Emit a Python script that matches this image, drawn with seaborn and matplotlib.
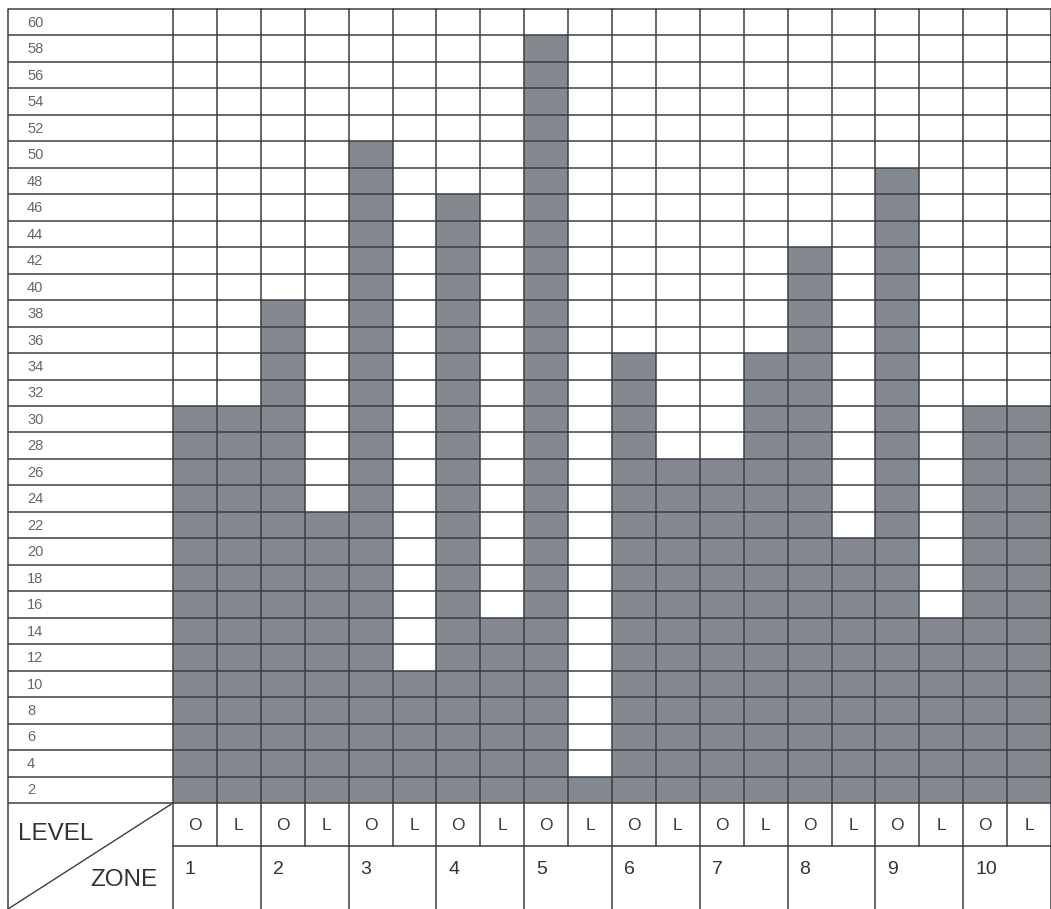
import matplotlib
matplotlib.use("Agg")
import matplotlib.pyplot as plt
import seaborn as sns
import pandas as pd
import numpy as np

# ---- data ----
zones = ["1", "2", "3", "4", "5", "6", "7", "8", "9", "10"]
levels = ["O", "L"]
o_values = [30, 38, 50, 46, 58, 34, 26, 42, 48, 30]
l_values = [30, 22, 10, 14, 2, 26, 34, 20, 14, 30]
y_ticks = list(range(2, 61, 2))

cols, vals, lvls = [], [], []
for z, o, l in zip(zones, o_values, l_values):
    cols += [f"{z}O", f"{z}L"]
    vals += [o, l]
    lvls += ["O", "L"]
df = pd.DataFrame({"col": cols, "value": vals, "level": lvls})

sns.set_theme(style="white")
plt.rcParams["font.family"] = ["Liberation Sans", "DejaVu Sans"]

W, H = 1051, 909
fig = plt.figure(figsize=(W / 100, H / 100), dpi=100)
ax = fig.add_axes([0, 0, 1, 1])

BAR = "#83898f"
LINE = "#3a3e42"
LW = 1.1

sns.barplot(data=df, x="col", y="value", color=BAR, width=1.0, saturation=1,
            edgecolor="none", linewidth=0, ax=ax, zorder=1, errorbar=None)

# pixel -> data helpers
colw = 43.9
def xd(px):
    return (px - 173) / colw - 0.5
def yd(py):
    return (803 - py) / 13.233

left = xd(8)
right = 19.5
ax.set_xlim(xd(0), 19.5)
ax.set_ylim(yd(H), yd(0))
ax.axis("off")

n = len(cols)
# horizontal grid lines
for v in range(0, 61, 2):
    ax.plot([left, right], [v, v], color=LINE, lw=LW, zorder=3, solid_capstyle="butt")
# vertical column lines in chart area + level row
row1 = yd(846)
for i in range(n + 1):
    x = i - 0.5
    ax.plot([x, x], [row1, 60], color=LINE, lw=LW, zorder=3)
# level row bottom line
ax.plot([-0.5, right], [row1, row1], color=LINE, lw=LW, zorder=3)
# zone boundaries in zone row
for i in range(0, n + 1, 2):
    x = i - 0.5
    ax.plot([x, x], [yd(H), row1], color=LINE, lw=LW, zorder=3)
# left border
ax.plot([left, left], [yd(H), 60], color=LINE, lw=LW, zorder=3)
# diagonal
ax.plot([left, -0.5], [yd(H), 0], color=LINE, lw=1.0, zorder=3)

# y labels
for v in y_ticks:
    ax.text(xd(27), v - 1.05, str(v), ha="left", va="center", fontsize=10.5, color="#666666")

# level labels
for i, lv in enumerate(lvls):
    ax.text(i, yd(826), lv, ha="center", va="center", fontsize=12.5, color="#3a3a3a")

# zone labels
for k, z in enumerate(zones):
    ax.text(2 * k - 0.5 + 0.27, yd(870), z, ha="left", va="center", fontsize=14, color="#333333")

ax.text(xd(18), yd(834), "LEVEL", ha="left", va="center", fontsize=17.5, color="#333333")
ax.text(xd(157), yd(880), "ZONE", ha="right", va="center", fontsize=17.5, color="#333333")

fig.savefig("out.png", dpi=100)
